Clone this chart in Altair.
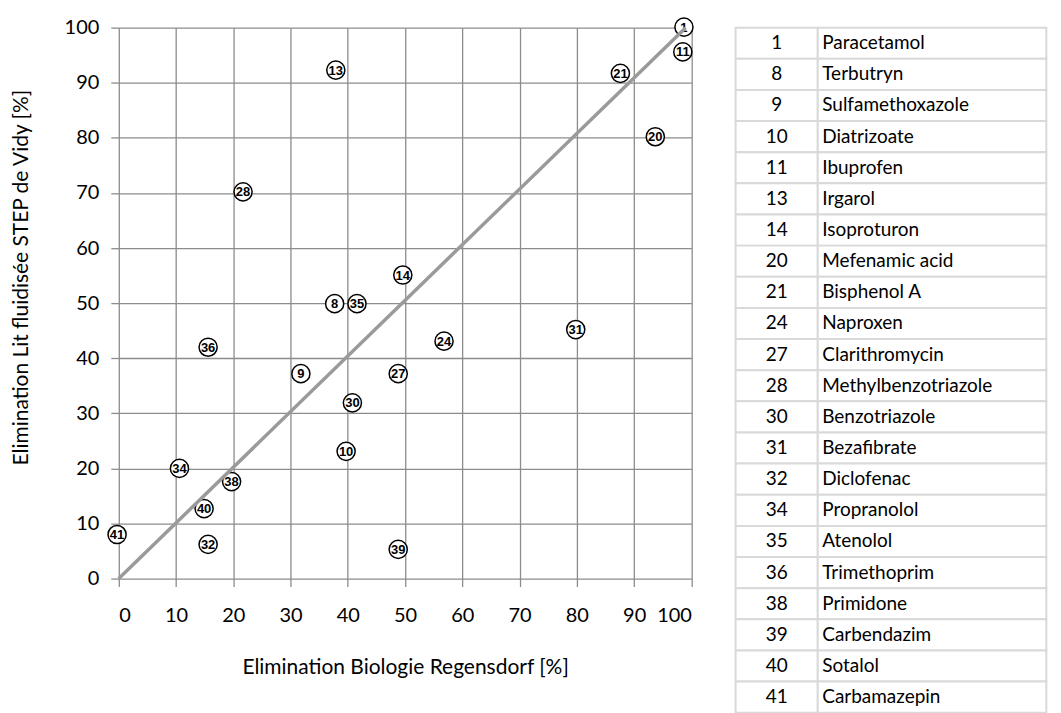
import altair as alt
import pandas as pd

# ---- data ----
ids = [1, 8, 9, 10, 11, 13, 14, 20, 21, 24, 27, 28, 30, 31, 32, 34, 35, 36, 38, 39, 40, 41]
names = ["Paracetamol", "Terbutryn", "Sulfamethoxazole", "Diatrizoate", "Ibuprofen",
         "Irgarol", "Isoproturon", "Mefenamic acid", "Bisphenol A", "Naproxen",
         "Clarithromycin", "Methylbenzotriazole", "Benzotriazole", "Bezafibrate",
         "Diclofenac", "Propranolol", "Atenolol", "Trimethoprim", "Primidone",
         "Carbendazim", "Sotalol", "Carbamazepin"]
regensdorf = [98.7, 37.7, 31.8, 39.7, 98.5, 37.9, 49.6, 93.7, 87.6, 56.8,
              48.8, 21.7, 40.8, 79.8, 15.6, 10.6, 41.6, 15.6, 19.7, 48.8, 14.9, -0.3]
vidy = [100.1, 49.9, 37.2, 23.1, 95.6, 92.3, 55.1, 80.2, 91.7, 43.1,
        37.2, 70.2, 31.9, 45.2, 6.2, 20.0, 49.9, 42.0, 17.6, 5.3, 12.7, 8.0]
line_x = [0, 99]
line_y = [0, 100]
tick_values = [0, 10, 20, 30, 40, 50, 60, 70, 80, 90, 100]

x_title = "Elimination Biologie Regensdorf [%]"
y_title = "Elimination Lit fluidisée STEP de Vidy [%]"

df = pd.DataFrame({"id": [str(i) for i in ids], "name": names,
                   "x": regensdorf, "y": vidy})
line_df = pd.DataFrame({"x": line_x, "y": line_y})
tdf = pd.DataFrame({"num": [str(i) for i in ids], "name": names})

GRID = "#8c8c8c"
FONT = "Lato"

xs = alt.Scale(domain=[0, 100], nice=False)
ys = alt.Scale(domain=[0, 100], nice=False)

x_axis = alt.Axis(values=tick_values, grid=True, gridColor=GRID, gridWidth=1.3,
                  domain=False, tickColor=GRID, tickSize=8, tickWidth=1.3,
                  labelFont=FONT, labelFontSize=20, labelColor="#000",
                  labelPadding=19, title=x_title, titleFont=FONT,
                  titleFontSize=21, titleFontWeight="normal", titleColor="#000",
                  titleY=89, titleBaseline="middle")
y_axis = alt.Axis(values=tick_values, grid=True, gridColor=GRID, gridWidth=1.3,
                  domain=False, tickColor=GRID, tickSize=8, tickWidth=1.3,
                  labelFont=FONT, labelFontSize=20, labelColor="#000",
                  labelPadding=12, title=y_title, titleFont=FONT,
                  titleFontSize=21, titleFontWeight="normal", titleColor="#000",
                  titleX=-97, titleY=250, titleBaseline="middle",
                  titleAlign="center", titleAngle=270)

base = alt.Chart(df)
points = base.mark_circle(color="white", stroke="black", strokeWidth=1.5,
                          size=330, opacity=1, clip=False).encode(
    x=alt.X("x:Q", scale=xs, axis=x_axis),
    y=alt.Y("y:Q", scale=ys, axis=y_axis),
)
labels = base.mark_text(font="Liberation Sans", fontSize=13, fontWeight="bold",
                        color="black", align="center", baseline="middle",
                        dy=0.5, clip=False).encode(
    x=alt.X("x:Q", scale=xs), y=alt.Y("y:Q", scale=ys), text="id:N")
line = alt.Chart(line_df).mark_line(color="#9a9a9a", strokeWidth=3.5).encode(
    x=alt.X("x:Q", scale=xs), y=alt.Y("y:Q", scale=ys))

scatter = alt.layer(points, labels, line).properties(width=573.7, height=552)

# ---- table ----
TW = 311.3
C1 = 82.3
ROW = 31.2
y_enc = alt.Y("name:N", sort=None,
              scale=alt.Scale(type="band", paddingInner=0, paddingOuter=0),
              axis=None)
tbase = alt.Chart(tdf)
cell1 = tbase.mark_rect(fill="white", stroke="#d9d9d9", strokeWidth=2).encode(
    y=y_enc, x=alt.value(0), x2=alt.value(C1))
cell2 = tbase.mark_rect(fill="white", stroke="#d9d9d9", strokeWidth=2).encode(
    y=y_enc, x=alt.value(C1), x2=alt.value(TW))
num_txt = tbase.mark_text(font=FONT, fontSize=19, align="center",
                          baseline="middle", color="black").encode(
    y=y_enc, x=alt.value(C1 / 2), text="num:N")
name_txt = tbase.mark_text(font=FONT, fontSize=19, align="left",
                           baseline="middle", color="black").encode(
    y=y_enc, x=alt.value(C1 + 4.5), text="name:N")
table = alt.layer(cell1, cell2, num_txt, name_txt).properties(
    width=TW, height=len(ids) * ROW)

chart = alt.hconcat(scatter, table, spacing=44, bounds="flush").properties(
    padding={"left": 2, "top": 6, "right": 5, "bottom": 5}
).configure_view(stroke=None)

chart.save("out.html", embed_options={"renderer": "svg", "actions": False})
